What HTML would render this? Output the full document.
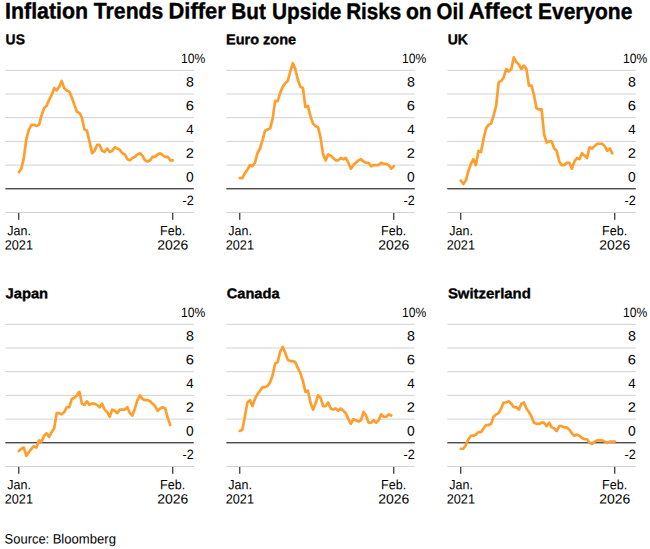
<!DOCTYPE html>
<html><head><meta charset="utf-8"><title>Inflation Trends Differ But Upside Risks on Oil Affect Everyone</title>
<style>
html,body{margin:0;padding:0;background:#fff;}
body{width:650px;height:549px;overflow:hidden;font-family:"Liberation Sans",sans-serif;}
svg{display:block;font-family:"Liberation Sans",sans-serif;text-rendering:geometricPrecision;}
.b{font-weight:bold;fill:#000;}
.n{font-weight:normal;fill:#000;}
.g{stroke:#d2d2d2;stroke-width:1;fill:none;}
.z{stroke:#000;stroke-width:1;fill:none;}
.k{stroke:#000;stroke-width:1;fill:none;}
.l{stroke:#ff9e2c;stroke-width:2.7;fill:none;stroke-linejoin:round;stroke-linecap:round;}
</style></head><body>
<svg width="650" height="549" viewBox="0 0 650 549">
<rect width="650" height="549" fill="#fff"/>
<g transform="translate(0,0)">
<line class="g" x1="5.3" x2="193.8" y1="70.30" y2="70.30"/>
<line class="g" x1="5.3" x2="193.8" y1="94.00" y2="94.00"/>
<line class="g" x1="5.3" x2="193.8" y1="117.70" y2="117.70"/>
<line class="g" x1="5.3" x2="193.8" y1="141.40" y2="141.40"/>
<line class="g" x1="5.3" x2="193.8" y1="165.10" y2="165.10"/>
<line class="g" x1="5.3" x2="193.8" y1="212.50" y2="212.50"/>
<line class="z" x1="5.3" x2="193.8" y1="188.80" y2="188.80"/>
<line class="k" x1="18.8" x2="18.8" y1="212.95" y2="219.80"/>
<line class="k" x1="172.8" x2="172.8" y1="212.95" y2="219.80"/>
<polyline class="l" points="18.80,172.21 21.32,168.66 23.85,157.99 26.37,139.03 28.90,129.55 31.42,124.81 33.95,124.81 36.47,126.00 39.00,124.81 41.52,115.33 44.05,108.22 46.57,105.85 49.10,99.92 51.62,95.18 54.14,88.08 56.67,90.44 59.19,86.89 61.72,80.97 64.24,88.08 66.77,90.44 69.29,91.63 71.82,97.55 74.34,104.67 76.87,111.78 79.39,112.96 81.91,117.70 84.44,129.55 86.96,130.74 89.49,141.40 92.01,153.25 94.54,150.88 97.06,144.96 99.59,144.96 102.11,150.88 104.64,152.06 107.16,148.51 109.69,152.06 112.21,150.88 114.73,147.32 117.26,148.51 119.78,149.69 122.31,153.25 124.83,154.44 127.36,159.18 129.88,160.36 132.41,157.99 134.93,156.81 137.46,154.44 139.98,153.25 142.50,155.62 145.03,160.36 147.55,161.55 150.08,160.36 152.60,156.81 155.13,156.81 157.65,154.44 160.18,153.25 162.70,155.03 165.23,156.81 167.75,156.81 170.28,160.36 172.80,160.36"/>
</g>
<g transform="translate(221,0)">
<line class="g" x1="5.3" x2="193.8" y1="70.30" y2="70.30"/>
<line class="g" x1="5.3" x2="193.8" y1="94.00" y2="94.00"/>
<line class="g" x1="5.3" x2="193.8" y1="117.70" y2="117.70"/>
<line class="g" x1="5.3" x2="193.8" y1="141.40" y2="141.40"/>
<line class="g" x1="5.3" x2="193.8" y1="165.10" y2="165.10"/>
<line class="g" x1="5.3" x2="193.8" y1="212.50" y2="212.50"/>
<line class="z" x1="5.3" x2="193.8" y1="188.80" y2="188.80"/>
<line class="k" x1="18.8" x2="18.8" y1="212.95" y2="219.80"/>
<line class="k" x1="172.8" x2="172.8" y1="212.95" y2="219.80"/>
<polyline class="l" points="18.80,178.14 21.32,178.14 23.85,173.40 26.37,169.84 28.90,165.10 31.42,166.29 33.95,162.73 36.47,153.25 39.00,148.51 41.52,140.22 44.05,130.74 46.57,129.55 49.10,128.37 51.62,118.89 54.14,101.11 56.67,101.11 59.19,92.82 61.72,86.89 64.24,83.34 66.77,80.97 69.29,71.48 71.82,63.19 74.34,69.11 76.87,79.78 79.39,86.89 81.91,88.08 84.44,107.03 86.96,105.85 89.49,116.52 92.01,123.62 94.54,126.00 97.06,127.18 99.59,137.84 102.11,154.44 104.64,160.36 107.16,154.44 109.69,155.62 112.21,157.99 114.73,160.36 117.26,160.36 119.78,157.99 122.31,159.18 124.83,157.99 127.36,162.73 129.88,168.66 132.41,165.10 134.93,162.73 137.46,160.36 139.98,159.18 142.50,161.55 145.03,162.73 147.55,162.73 150.08,166.29 152.60,165.10 155.13,165.10 157.65,165.10 160.18,162.73 162.70,163.92 165.23,163.92 167.75,165.10 170.28,168.66 172.80,166.29"/>
</g>
<g transform="translate(442,0)">
<line class="g" x1="5.3" x2="193.8" y1="70.30" y2="70.30"/>
<line class="g" x1="5.3" x2="193.8" y1="94.00" y2="94.00"/>
<line class="g" x1="5.3" x2="193.8" y1="117.70" y2="117.70"/>
<line class="g" x1="5.3" x2="193.8" y1="141.40" y2="141.40"/>
<line class="g" x1="5.3" x2="193.8" y1="165.10" y2="165.10"/>
<line class="g" x1="5.3" x2="193.8" y1="212.50" y2="212.50"/>
<line class="z" x1="5.3" x2="193.8" y1="188.80" y2="188.80"/>
<line class="k" x1="18.8" x2="18.8" y1="212.95" y2="219.80"/>
<line class="k" x1="172.8" x2="172.8" y1="212.95" y2="219.80"/>
<polyline class="l" points="18.80,180.51 21.32,184.06 23.85,180.51 26.37,171.03 28.90,163.92 31.42,159.18 33.95,165.10 36.47,150.88 39.00,152.06 41.52,139.03 44.05,128.37 46.57,124.81 49.10,123.62 51.62,115.33 54.14,105.85 56.67,82.15 59.19,80.97 61.72,77.41 64.24,69.11 66.77,71.48 69.29,69.11 71.82,57.26 74.34,62.01 76.87,64.37 79.39,69.11 81.91,65.56 84.44,69.11 86.96,85.71 89.49,85.71 92.01,95.18 94.54,108.22 97.06,109.41 99.59,109.41 102.11,134.29 104.64,142.59 107.16,141.40 109.69,141.40 112.21,148.51 114.73,150.88 117.26,161.55 119.78,165.10 122.31,165.10 124.83,162.73 127.36,162.73 129.88,168.66 132.41,161.55 134.93,157.99 137.46,159.18 139.98,153.25 142.50,155.62 145.03,157.99 147.55,147.32 150.08,148.51 152.60,146.14 155.13,143.77 157.65,143.77 160.18,143.77 162.70,146.14 165.23,150.88 167.75,148.51 170.28,153.25"/>
</g>
<g transform="translate(0,254)">
<line class="g" x1="5.3" x2="193.8" y1="70.30" y2="70.30"/>
<line class="g" x1="5.3" x2="193.8" y1="94.00" y2="94.00"/>
<line class="g" x1="5.3" x2="193.8" y1="117.70" y2="117.70"/>
<line class="g" x1="5.3" x2="193.8" y1="141.40" y2="141.40"/>
<line class="g" x1="5.3" x2="193.8" y1="165.10" y2="165.10"/>
<line class="g" x1="5.3" x2="193.8" y1="212.50" y2="212.50"/>
<line class="z" x1="5.3" x2="193.8" y1="188.80" y2="188.80"/>
<line class="k" x1="18.8" x2="18.8" y1="212.95" y2="219.80"/>
<line class="k" x1="172.8" x2="172.8" y1="212.95" y2="219.80"/>
<polyline class="l" points="18.80,197.09 21.32,194.73 23.85,193.54 26.37,201.84 28.90,198.28 31.42,194.73 33.95,192.36 36.47,193.54 39.00,186.43 41.52,187.62 44.05,181.69 46.57,179.32 49.10,182.88 51.62,178.14 54.14,174.58 56.67,159.18 59.19,159.18 61.72,160.36 64.24,157.99 66.77,153.25 69.29,153.25 71.82,144.96 74.34,143.77 76.87,141.40 79.39,137.84 81.91,149.69 84.44,150.88 86.96,147.32 89.49,150.88 92.01,149.69 94.54,149.69 97.06,150.88 99.59,153.25 102.11,149.69 104.64,155.62 107.16,157.99 109.69,162.73 112.21,155.62 114.73,156.81 117.26,159.18 119.78,155.62 122.31,155.62 124.83,155.62 127.36,153.25 129.88,159.18 132.41,161.55 134.93,154.44 137.46,146.14 139.98,141.40 142.50,144.96 145.03,146.14 147.55,146.14 150.08,147.32 152.60,149.69 155.13,152.06 157.65,156.81 160.18,154.44 162.70,153.25 165.23,154.44 167.75,163.92 170.28,171.03"/>
</g>
<g transform="translate(221,254)">
<line class="g" x1="5.3" x2="193.8" y1="70.30" y2="70.30"/>
<line class="g" x1="5.3" x2="193.8" y1="94.00" y2="94.00"/>
<line class="g" x1="5.3" x2="193.8" y1="117.70" y2="117.70"/>
<line class="g" x1="5.3" x2="193.8" y1="141.40" y2="141.40"/>
<line class="g" x1="5.3" x2="193.8" y1="165.10" y2="165.10"/>
<line class="g" x1="5.3" x2="193.8" y1="212.50" y2="212.50"/>
<line class="z" x1="5.3" x2="193.8" y1="188.80" y2="188.80"/>
<line class="k" x1="18.8" x2="18.8" y1="212.95" y2="219.80"/>
<line class="k" x1="172.8" x2="172.8" y1="212.95" y2="219.80"/>
<polyline class="l" points="18.80,176.95 21.32,175.77 23.85,162.73 26.37,148.51 28.90,146.14 31.42,152.06 33.95,144.96 36.47,140.22 39.00,136.66 41.52,133.11 44.05,133.11 46.57,131.92 49.10,128.37 51.62,121.26 54.14,109.41 56.67,108.22 59.19,97.55 61.72,92.82 64.24,98.74 66.77,105.85 69.29,107.03 71.82,107.03 74.34,108.22 76.87,114.15 79.39,118.89 81.91,127.18 84.44,137.84 86.96,136.66 89.49,148.51 92.01,155.62 94.54,149.69 97.06,141.40 99.59,143.77 102.11,152.06 104.64,152.06 107.16,148.51 109.69,154.44 112.21,155.62 114.73,154.44 117.26,156.81 119.78,154.44 122.31,156.81 124.83,159.18 127.36,165.10 129.88,169.84 132.41,165.10 134.93,166.29 137.46,167.47 139.98,166.29 142.50,157.99 145.03,161.55 147.55,168.66 150.08,168.66 152.60,166.29 155.13,168.66 157.65,166.29 160.18,160.36 162.70,162.73 165.23,162.73 167.75,160.36 170.28,161.55"/>
</g>
<g transform="translate(442,254)">
<line class="g" x1="5.3" x2="193.8" y1="70.30" y2="70.30"/>
<line class="g" x1="5.3" x2="193.8" y1="94.00" y2="94.00"/>
<line class="g" x1="5.3" x2="193.8" y1="117.70" y2="117.70"/>
<line class="g" x1="5.3" x2="193.8" y1="141.40" y2="141.40"/>
<line class="g" x1="5.3" x2="193.8" y1="165.10" y2="165.10"/>
<line class="g" x1="5.3" x2="193.8" y1="212.50" y2="212.50"/>
<line class="z" x1="5.3" x2="193.8" y1="188.80" y2="188.80"/>
<line class="k" x1="18.8" x2="18.8" y1="212.95" y2="219.80"/>
<line class="k" x1="172.8" x2="172.8" y1="212.95" y2="219.80"/>
<polyline class="l" points="18.80,194.73 21.32,194.73 23.85,191.17 26.37,185.25 28.90,181.69 31.42,181.69 33.95,180.51 36.47,178.14 39.00,178.14 41.52,174.58 44.05,171.03 46.57,171.03 49.10,169.84 51.62,162.73 54.14,160.36 56.67,159.18 59.19,154.44 61.72,148.51 64.24,148.51 66.77,147.32 69.29,149.69 71.82,153.25 74.34,153.25 76.87,155.62 79.39,149.69 81.91,148.51 84.44,154.44 86.96,157.99 89.49,162.73 92.01,168.66 94.54,169.84 97.06,169.84 99.59,168.66 102.11,168.66 104.64,172.21 107.16,168.66 109.69,173.40 112.21,174.58 114.73,176.95 117.26,172.21 119.78,172.21 122.31,173.40 124.83,173.40 127.36,175.77 129.88,179.32 132.41,181.69 134.93,180.51 137.46,181.69 139.98,184.06 142.50,185.25 145.03,185.25 147.55,188.80 150.08,189.99 152.60,187.62 155.13,186.43 157.65,186.43 160.18,186.43 162.70,187.62 165.23,188.80 167.75,187.62 170.28,187.62 172.80,187.62"/>
</g>
<text class="b" stroke="#000" stroke-width="0.4" stroke-linejoin="round" font-size="22.6" transform="translate(5.12,18.55) rotate(0.03) scale(0.9430,1.0)">Inflation</text>
<text class="b" stroke="#000" stroke-width="0.4" stroke-linejoin="round" font-size="22.6" transform="translate(93.85,18.55) rotate(0.03) scale(0.9373,1.0)">Trends</text>
<text class="b" stroke="#000" stroke-width="0.4" stroke-linejoin="round" font-size="22.6" transform="translate(168.48,18.55) rotate(0.03) scale(0.9697,1.0)">Differ</text>
<text class="b" stroke="#000" stroke-width="0.4" stroke-linejoin="round" font-size="22.6" transform="translate(231.30,18.55) rotate(0.03) scale(0.9175,1.0)">But</text>
<text class="b" stroke="#000" stroke-width="0.4" stroke-linejoin="round" font-size="22.6" transform="translate(272.07,18.55) rotate(0.03) scale(0.9210,1.0)">Upside</text>
<text class="b" stroke="#000" stroke-width="0.4" stroke-linejoin="round" font-size="22.6" transform="translate(346.16,18.55) rotate(0.03) scale(0.9159,1.0)">Risks</text>
<text class="b" stroke="#000" stroke-width="0.4" stroke-linejoin="round" font-size="22.6" transform="translate(405.94,18.55) rotate(0.03) scale(0.9318,1.0)">on</text>
<text class="b" stroke="#000" stroke-width="0.4" stroke-linejoin="round" font-size="22.6" transform="translate(436.61,18.55) rotate(0.03) scale(0.9023,1.0)">Oil</text>
<text class="b" stroke="#000" stroke-width="0.4" stroke-linejoin="round" font-size="22.6" transform="translate(468.40,18.55) rotate(0.03) scale(0.9926,1.0)">Affect</text>
<text class="b" stroke="#000" stroke-width="0.4" stroke-linejoin="round" font-size="22.6" transform="translate(538.04,18.55) rotate(0.03) scale(0.9265,1.0)">Everyone</text>
<text class="b" stroke="#000" stroke-width="0.35" stroke-linejoin="round" font-size="14.2" transform="translate(5.62,44.30) rotate(0.03) scale(0.9767,1.0)">US</text>
<text class="b" stroke="#000" stroke-width="0.35" stroke-linejoin="round" font-size="14.2" transform="translate(226.02,44.30) rotate(0.03) scale(1.0223,1.0)">Euro zone</text>
<text class="b" stroke="#000" stroke-width="0.35" stroke-linejoin="round" font-size="14.2" transform="translate(447.77,44.30) rotate(0.03) scale(0.9851,1.0)">UK</text>
<text class="b" stroke="#000" stroke-width="0.35" stroke-linejoin="round" font-size="14.2" transform="translate(5.47,298.30) rotate(0.03) scale(1.0396,1.0)">Japan</text>
<text class="b" stroke="#000" stroke-width="0.35" stroke-linejoin="round" font-size="14.2" transform="translate(226.67,298.30) rotate(0.03) scale(1.0316,1.0)">Canada</text>
<text class="b" stroke="#000" stroke-width="0.35" stroke-linejoin="round" font-size="14.2" transform="translate(447.89,298.30) rotate(0.03) scale(1.0518,1.0)">Switzerland</text>
<text class="n" font-size="13.5" transform="translate(181.04,62.90) rotate(0.03) scale(0.8963,1.0)">10%</text>
<text class="n" font-size="13.5" transform="translate(185.95,86.60) rotate(0.03) scale(1.0552,1.0)">8</text>
<text class="n" font-size="13.5" transform="translate(185.71,110.30) rotate(0.03) scale(1.0904,1.0)">6</text>
<text class="n" font-size="13.5" transform="translate(186.19,134.00) rotate(0.03) scale(0.9912,1.0)">4</text>
<text class="n" font-size="13.5" transform="translate(185.71,157.70) rotate(0.03) scale(1.0904,1.0)">2</text>
<text class="n" font-size="13.5" transform="translate(185.97,181.40) rotate(0.03) scale(1.0222,1.0)">0</text>
<text class="n" font-size="13.5" transform="translate(182.51,205.10) rotate(0.03) scale(0.9334,1.0)">-2</text>
<text class="n" font-size="13.4" transform="translate(7.25,235.20) rotate(0.03) scale(0.9327,1.0)">Jan.</text>
<text class="n" font-size="13.4" transform="translate(4.75,249.40) rotate(0.03) scale(0.9480,1.0)">2021</text>
<text class="n" font-size="13.4" transform="translate(160.02,235.20) rotate(0.03) scale(0.9366,1.0)">Feb.</text>
<text class="n" font-size="13.4" transform="translate(157.19,249.40) rotate(0.03) scale(1.0440,1.0)">2026</text>
<text class="n" font-size="13.5" transform="translate(402.04,62.90) rotate(0.03) scale(0.8963,1.0)">10%</text>
<text class="n" font-size="13.5" transform="translate(406.95,86.60) rotate(0.03) scale(1.0552,1.0)">8</text>
<text class="n" font-size="13.5" transform="translate(406.71,110.30) rotate(0.03) scale(1.0904,1.0)">6</text>
<text class="n" font-size="13.5" transform="translate(407.19,134.00) rotate(0.03) scale(0.9912,1.0)">4</text>
<text class="n" font-size="13.5" transform="translate(406.71,157.70) rotate(0.03) scale(1.0904,1.0)">2</text>
<text class="n" font-size="13.5" transform="translate(406.97,181.40) rotate(0.03) scale(1.0222,1.0)">0</text>
<text class="n" font-size="13.5" transform="translate(403.51,205.10) rotate(0.03) scale(0.9334,1.0)">-2</text>
<text class="n" font-size="13.4" transform="translate(228.25,235.20) rotate(0.03) scale(0.9327,1.0)">Jan.</text>
<text class="n" font-size="13.4" transform="translate(225.75,249.40) rotate(0.03) scale(0.9480,1.0)">2021</text>
<text class="n" font-size="13.4" transform="translate(381.02,235.20) rotate(0.03) scale(0.9366,1.0)">Feb.</text>
<text class="n" font-size="13.4" transform="translate(378.19,249.40) rotate(0.03) scale(1.0440,1.0)">2026</text>
<text class="n" font-size="13.5" transform="translate(623.04,62.90) rotate(0.03) scale(0.8963,1.0)">10%</text>
<text class="n" font-size="13.5" transform="translate(627.95,86.60) rotate(0.03) scale(1.0552,1.0)">8</text>
<text class="n" font-size="13.5" transform="translate(627.71,110.30) rotate(0.03) scale(1.0904,1.0)">6</text>
<text class="n" font-size="13.5" transform="translate(628.19,134.00) rotate(0.03) scale(0.9912,1.0)">4</text>
<text class="n" font-size="13.5" transform="translate(627.71,157.70) rotate(0.03) scale(1.0904,1.0)">2</text>
<text class="n" font-size="13.5" transform="translate(627.97,181.40) rotate(0.03) scale(1.0222,1.0)">0</text>
<text class="n" font-size="13.5" transform="translate(624.51,205.10) rotate(0.03) scale(0.9334,1.0)">-2</text>
<text class="n" font-size="13.4" transform="translate(449.25,235.20) rotate(0.03) scale(0.9327,1.0)">Jan.</text>
<text class="n" font-size="13.4" transform="translate(446.75,249.40) rotate(0.03) scale(0.9480,1.0)">2021</text>
<text class="n" font-size="13.4" transform="translate(602.02,235.20) rotate(0.03) scale(0.9366,1.0)">Feb.</text>
<text class="n" font-size="13.4" transform="translate(599.19,249.40) rotate(0.03) scale(1.0440,1.0)">2026</text>
<text class="n" font-size="13.5" transform="translate(181.04,316.90) rotate(0.03) scale(0.8963,1.0)">10%</text>
<text class="n" font-size="13.5" transform="translate(185.95,340.60) rotate(0.03) scale(1.0552,1.0)">8</text>
<text class="n" font-size="13.5" transform="translate(185.71,364.30) rotate(0.03) scale(1.0904,1.0)">6</text>
<text class="n" font-size="13.5" transform="translate(186.19,388.00) rotate(0.03) scale(0.9912,1.0)">4</text>
<text class="n" font-size="13.5" transform="translate(185.71,411.70) rotate(0.03) scale(1.0904,1.0)">2</text>
<text class="n" font-size="13.5" transform="translate(185.97,435.40) rotate(0.03) scale(1.0222,1.0)">0</text>
<text class="n" font-size="13.5" transform="translate(182.51,459.10) rotate(0.03) scale(0.9334,1.0)">-2</text>
<text class="n" font-size="13.4" transform="translate(7.25,489.20) rotate(0.03) scale(0.9327,1.0)">Jan.</text>
<text class="n" font-size="13.4" transform="translate(4.75,503.40) rotate(0.03) scale(0.9480,1.0)">2021</text>
<text class="n" font-size="13.4" transform="translate(160.02,489.20) rotate(0.03) scale(0.9366,1.0)">Feb.</text>
<text class="n" font-size="13.4" transform="translate(157.19,503.40) rotate(0.03) scale(1.0440,1.0)">2026</text>
<text class="n" font-size="13.5" transform="translate(402.04,316.90) rotate(0.03) scale(0.8963,1.0)">10%</text>
<text class="n" font-size="13.5" transform="translate(406.95,340.60) rotate(0.03) scale(1.0552,1.0)">8</text>
<text class="n" font-size="13.5" transform="translate(406.71,364.30) rotate(0.03) scale(1.0904,1.0)">6</text>
<text class="n" font-size="13.5" transform="translate(407.19,388.00) rotate(0.03) scale(0.9912,1.0)">4</text>
<text class="n" font-size="13.5" transform="translate(406.71,411.70) rotate(0.03) scale(1.0904,1.0)">2</text>
<text class="n" font-size="13.5" transform="translate(406.97,435.40) rotate(0.03) scale(1.0222,1.0)">0</text>
<text class="n" font-size="13.5" transform="translate(403.51,459.10) rotate(0.03) scale(0.9334,1.0)">-2</text>
<text class="n" font-size="13.4" transform="translate(228.25,489.20) rotate(0.03) scale(0.9327,1.0)">Jan.</text>
<text class="n" font-size="13.4" transform="translate(225.75,503.40) rotate(0.03) scale(0.9480,1.0)">2021</text>
<text class="n" font-size="13.4" transform="translate(381.02,489.20) rotate(0.03) scale(0.9366,1.0)">Feb.</text>
<text class="n" font-size="13.4" transform="translate(378.19,503.40) rotate(0.03) scale(1.0440,1.0)">2026</text>
<text class="n" font-size="13.5" transform="translate(623.04,316.90) rotate(0.03) scale(0.8963,1.0)">10%</text>
<text class="n" font-size="13.5" transform="translate(627.95,340.60) rotate(0.03) scale(1.0552,1.0)">8</text>
<text class="n" font-size="13.5" transform="translate(627.71,364.30) rotate(0.03) scale(1.0904,1.0)">6</text>
<text class="n" font-size="13.5" transform="translate(628.19,388.00) rotate(0.03) scale(0.9912,1.0)">4</text>
<text class="n" font-size="13.5" transform="translate(627.71,411.70) rotate(0.03) scale(1.0904,1.0)">2</text>
<text class="n" font-size="13.5" transform="translate(627.97,435.40) rotate(0.03) scale(1.0222,1.0)">0</text>
<text class="n" font-size="13.5" transform="translate(624.51,459.10) rotate(0.03) scale(0.9334,1.0)">-2</text>
<text class="n" font-size="13.4" transform="translate(449.25,489.20) rotate(0.03) scale(0.9327,1.0)">Jan.</text>
<text class="n" font-size="13.4" transform="translate(446.75,503.40) rotate(0.03) scale(0.9480,1.0)">2021</text>
<text class="n" font-size="13.4" transform="translate(602.02,489.20) rotate(0.03) scale(0.9366,1.0)">Feb.</text>
<text class="n" font-size="13.4" transform="translate(599.19,503.40) rotate(0.03) scale(1.0440,1.0)">2026</text>
<text class="n" font-size="13.6" transform="translate(4.60,543.50) rotate(0.03) scale(0.9521,1.0)">Source:</text>
<text class="n" font-size="13.6" transform="translate(52.63,543.50) rotate(0.03) scale(0.9626,1.0)">Bloomberg</text>
</svg></body></html>
